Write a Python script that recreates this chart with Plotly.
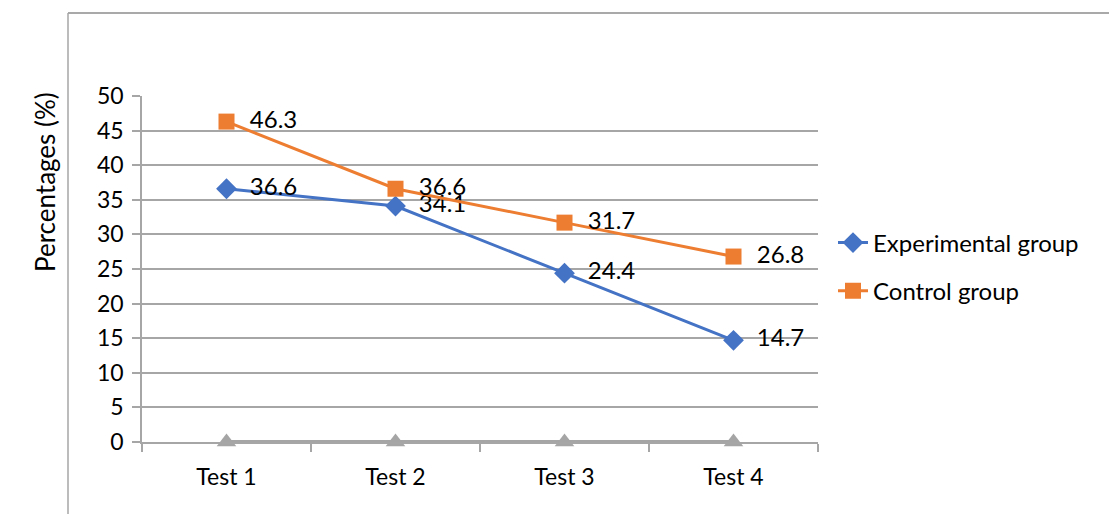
import plotly.graph_objects as go

categories = ["Test 1", "Test 2", "Test 3", "Test 4"]
experimental = [36.6, 34.1, 24.4, 14.7]
control = [46.3, 36.6, 31.7, 26.8]
baseline = [0, 0, 0, 0]
y_ticks = [0, 5, 10, 15, 20, 25, 30, 35, 40, 45, 50]

FONT = "Lato"
W, H = 1109, 514
L, R, T, B = 142, 291, 96, 72
pw, ph = W - L - R, H - T - B

def px(x):
    return (x - L) / pw

def py(y):
    return (H - B - y) / ph

fig = go.Figure()
fig.add_trace(go.Scatter(
    x=categories, y=baseline, mode="lines+markers", showlegend=False,
    line=dict(color="#A5A5A5", width=4),
    marker=dict(symbol="triangle-up", size=17, color="#A5A5A5"),
    cliponaxis=False, hoverinfo="skip"))
fig.add_trace(go.Scatter(
    x=categories, y=experimental, mode="lines+markers+text", name="Experimental group",
    text=["  " + f"{v:.1f}" for v in experimental], textposition="middle right",
    textfont=dict(family=FONT, size=24, color="#000000"),
    line=dict(color="#4472C4", width=3),
    marker=dict(symbol="diamond", size=16, color="#4472C4"),
    cliponaxis=False, legendgroup="a"))
fig.add_trace(go.Scatter(
    x=categories, y=control, mode="lines+markers+text", name="Control group",
    text=["  " + f"{v:.1f}" for v in control], textposition="middle right",
    textfont=dict(family=FONT, size=24, color="#000000"),
    line=dict(color="#ED7D31", width=3),
    marker=dict(symbol="square", size=16, color="#ED7D31"),
    cliponaxis=False, legendgroup="b"))

fig.update_layout(
    width=W, height=H,
    margin=dict(l=L, r=R, t=T, b=B, pad=0),
    paper_bgcolor="white", plot_bgcolor="white",
    font=dict(family=FONT, size=23, color="#000000"),
    showlegend=True,
    legend=dict(x=px(833), y=py(267), xanchor="left", yanchor="middle",
                font=dict(family=FONT, size=24, color="#000000"),
                tracegroupgap=14, bgcolor="rgba(0,0,0,0)"),
    xaxis=dict(range=[-0.5, 3.5], showgrid=False, showline=True,
               linecolor="#A6A6A6", linewidth=1.5,
               ticks="outside", tickson="boundaries", ticklen=8,
               tickcolor="#A6A6A6", tickwidth=1.5, zeroline=False,
               ticklabelstandoff=14,
               tickfont=dict(family=FONT, size=23)),
    yaxis=dict(range=[0, 50], tickvals=y_ticks, showgrid=True,
               gridcolor="#A6A6A6", gridwidth=1.5, showline=True,
               linecolor="#A6A6A6", linewidth=1.5, ticks="outside",
               ticklen=8, tickcolor="#A6A6A6", tickwidth=1.5,
               zeroline=False, ticklabelstandoff=4,
               tickfont=dict(family=FONT, size=23)),
    shapes=[
        dict(type="line", xref="paper", yref="paper", x0=px(68), x1=px(1115),
             y0=py(13), y1=py(13), line=dict(color="#8C8C8C", width=1.5)),
        dict(type="line", xref="paper", yref="paper", x0=px(68), x1=px(68),
             y0=py(13), y1=py(520), line=dict(color="#A6A6A6", width=1.5)),
    ],
    annotations=[dict(text="Percentages (%)", xref="paper", yref="paper",
                      x=px(45), y=py(182), textangle=-90, showarrow=False,
                      xanchor="center", yanchor="middle",
                      font=dict(family=FONT, size=26, color="#000000"))],
)

fig.write_html("out.html", config={"displayModeBar": False},
               post_script="document.body.style.margin='0';")
